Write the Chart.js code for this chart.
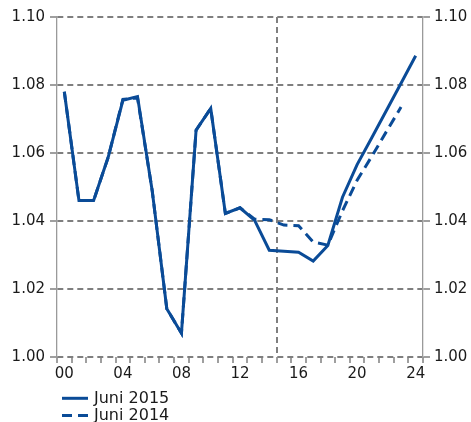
<!DOCTYPE html>
<html>
<head>
<meta charset="utf-8">
<script src="https://cdn.jsdelivr.net/npm/chart.js@4.4.1/dist/chart.umd.min.js"></script>
<style>
  html, body { margin: 0; padding: 0; background: #fff; }
</style>
</head>
<body>
<canvas id="grafico" width="471" height="422"></canvas>
<script>
// Datos
const years = ['2000', '2001', '2002', '2003', '2004', '2005', '2006', '2007', '2008', '2009',
  '2010', '2011', '2012', '2013', '2014', '2015', '2016', '2017', '2018', '2019',
  '2020', '2021', '2022', '2023', '2024'];
const juni2015 = [1.078, 1.046, 1.046, 1.0588, 1.0755, 1.0766, 1.049, 1.0142, 1.007, 1.0667,
  1.0731, 1.0422, 1.0439, 1.0402, 1.0314, 1.0311, 1.0308, 1.0282, 1.0328, 1.047,
  1.0566, 1.0645, 1.0725, 1.0805, 1.0886];
const juni2014 = [1.078, 1.046, 1.046, 1.0588, 1.0758, 1.0762, 1.049, 1.0142, 1.007, 1.0667,
  1.0731, 1.0422, 1.0439, 1.0405, 1.0404, 1.0388, 1.0386, 1.0338, 1.0329, 1.043,
  1.052, 1.059, 1.0663, 1.0735, null];
const yTicks = ['1.00', '1.02', '1.04', '1.06', '1.08', '1.10'];

const azul = '#0a4b97';
const gris = '#7f7f7f';

Chart.defaults.font.family = '"DejaVu Sans"';
Chart.defaults.font.size = 15;
Chart.defaults.color = '#1a1a1a';

// Leyenda en dos filas
const leyenda = {
  id: 'leyenda',
  afterDraw(chart) {
    const ctx = chart.ctx;
    ctx.save();
    chart.data.datasets.forEach((ds, i) => {
      const y = 398.3 + i * 17.2;
      ctx.strokeStyle = ds.borderColor;
      ctx.lineWidth = 3;
      ctx.setLineDash(ds.borderDash || []);
      ctx.beginPath();
      ctx.moveTo(62, y);
      ctx.lineTo(88, y);
      ctx.stroke();
      ctx.setLineDash([]);
      ctx.fillStyle = '#1a1a1a';
      ctx.font = '16px "DejaVu Sans"';
      ctx.textBaseline = 'alphabetic';
      ctx.fillText(ds.label, 94, y + 4.5);
    });
    ctx.restore();
  }
};

const yAxis = (pos, width, pad) => ({
  type: 'linear',
  position: pos,
  min: 1.0,
  max: 1.1,
  afterFit: s => { s.width = width; },
  afterBuildTicks: s => { s.ticks = yTicks.map(t => ({ value: parseFloat(t) })); },
  ticks: {
    padding: pad,
    callback: v => v.toFixed(2)
  },
  grid: {
    drawOnChartArea: pos === 'left',
    color: gris,
    lineWidth: 2,
    tickLength: 7,
    tickWidth: 1.5,
    tickColor: gris
  },
  border: { color: '#9a9a9a', width: 1.3, dash: [6, 4] }
});

const ctx = document.getElementById('grafico').getContext('2d');
new Chart(ctx, {
  type: 'line',
  data: {
    labels: years,
    datasets: [{
      label: 'Juni 2015',
      data: juni2015,
      borderColor: azul,
      borderWidth: 3,
      pointRadius: 0,
      tension: 0
    }, {
      label: 'Juni 2014',
      data: juni2014,
      borderColor: azul,
      borderWidth: 3,
      borderDash: [10, 6],
      pointRadius: 0,
      tension: 0
    }]
  },
  options: {
    responsive: false,
    animation: false,
    layout: { padding: { top: 17, left: 0, right: 0, bottom: 0 } },
    plugins: {
      legend: { display: false },
      tooltip: { enabled: false }
    },
    scales: {
      x: {
        type: 'category',
        offset: true,
        afterFit: s => { s.height = 65; },
        ticks: {
          autoSkip: false,
          maxRotation: 0,
          padding: 2,
          callback: function (v, i) { return i % 4 === 0 ? years[i].slice(2) : ''; }
        },
        grid: {
          offset: true,
          color: c => c.index === 15 ? gris : 'transparent',
          lineWidth: 2,
          tickLength: 6,
          tickWidth: 1.5,
          tickColor: gris
        },
        border: { display: false, dash: [6, 4] }
      },
      y: yAxis('left', 57, 5),
      y2: yAxis('right', 48, 4)
    }
  },
  plugins: [leyenda]
});
</script>
</body>
</html>
